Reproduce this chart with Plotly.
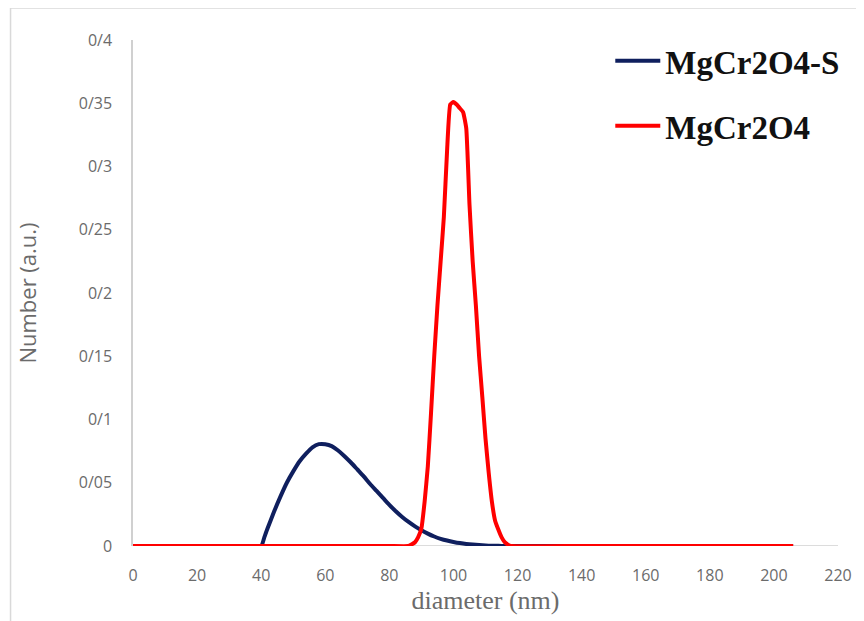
import plotly.graph_objects as go

# MgCr2O4-S (navy) size distribution
blue_x = [0, 10, 20, 30, 38, 40, 41, 42, 44, 46, 48, 50, 52, 54, 56, 58, 60, 62, 64, 66, 68,
          70, 72, 74, 76, 78, 80, 82, 84, 86, 88, 90, 92, 94, 96, 98, 100, 102, 104, 106, 108,
          110, 112, 114, 116, 130, 160, 206]
blue_y = [0, 0, 0, 0, 0, 0, 0.007, 0.014, 0.027, 0.039, 0.050, 0.059, 0.067, 0.073, 0.078, 0.0805, 0.0805, 0.079, 0.0755, 0.071, 0.066,
          0.0605, 0.055, 0.049, 0.0435, 0.038, 0.0325, 0.0275, 0.023, 0.019, 0.0155, 0.0125, 0.0098, 0.0075, 0.0057, 0.0043, 0.0032, 0.0023, 0.0016, 0.0011, 0.0007,
          0.0004, 0.0002, 0.0001, 0, 0, 0, 0]

# MgCr2O4 (red) size distribution
red_x = [0, 20, 40, 60, 80, 86, 88, 89, 90, 91, 92, 93, 94, 95, 96, 97, 98, 99, 100, 101,
         102, 103, 104, 105, 106, 107, 108, 109, 110, 111, 112, 113, 114, 115, 116, 117, 118,
         140, 170, 206]
red_y = [0, 0, 0, 0, 0, 0, 0.003, 0.007, 0.014, 0.035, 0.063, 0.105, 0.150, 0.190, 0.225, 0.260, 0.312, 0.349, 0.351, 0.349,
         0.346, 0.343, 0.330, 0.270, 0.225, 0.190, 0.150, 0.118, 0.085, 0.058, 0.035, 0.020, 0.013, 0.007, 0.003, 0.001, 0,
         0, 0, 0]

y_tickvals = [0, 0.05, 0.1, 0.15, 0.2, 0.25, 0.3, 0.35, 0.4]
y_ticktext = ["0", "0/05", "0/1", "0/15", "0/2", "0/25", "0/3", "0/35", "0/4"]
x_tickvals = [0, 20, 40, 60, 80, 100, 120, 140, 160, 180, 200, 220]

fig = go.Figure()
fig.add_trace(go.Scatter(x=blue_x, y=blue_y, mode="lines", name="<b>MgCr2O4-S</b>",
                         line=dict(color="#0f1f5e", width=4, shape="spline", smoothing=0.6),
                         legendgroup="a"))
fig.add_trace(go.Scatter(x=red_x, y=red_y, mode="lines", name="<b>MgCr2O4</b>",
                         line=dict(color="#ff0000", width=4, shape="spline", smoothing=0.4),
                         legendgroup="b"))

tick_font = dict(family="Open Sans, Lato, sans-serif", size=16, color="#6b6b6b")

fig.update_layout(
    width=856, height=613,
    margin=dict(l=125, r=17, t=32, b=75),
    paper_bgcolor="white", plot_bgcolor="white",
    showlegend=True,
    legend=dict(x=0.677, y=1.014, xanchor="left", yanchor="top",
                font=dict(family="Liberation Serif, serif", size=33, color="#111111"),
                bgcolor="rgba(0,0,0,0)", tracegroupgap=19, itemwidth=45),
    xaxis=dict(range=[0, 220], tickvals=x_tickvals, showgrid=False, zeroline=False,
               showline=False, ticks="", tickfont=tick_font, ticklabelstandoff=18,
               title=dict(text="diameter (nm)", standoff=4,
                          font=dict(family="Liberation Serif, serif", size=26, color="#6b6b6b"))),
    yaxis=dict(range=[0, 0.4], tickvals=y_tickvals, ticktext=y_ticktext, showgrid=False,
               zeroline=False, showline=True, linecolor="#d0d0d0", linewidth=1.5, ticks="",
               tickfont=tick_font, ticklabelstandoff=16,
               title=dict(text="Number (a.u.)", standoff=36,
                          font=dict(family="Open Sans, Lato, sans-serif", size=22, color="#6b6b6b"))),
    shapes=[
        # x axis baseline
        dict(type="line", xref="x", yref="y", x0=0, x1=220, y0=0, y1=0,
             line=dict(color="#d0d0d0", width=1.5), layer="below"),
        # outer frame (top and left)
        dict(type="line", xref="paper", yref="paper", x0=-0.1737, x1=1.03, y0=1.0632, y1=1.0632,
             line=dict(color="#d9d9d9", width=1.5)),
        dict(type="line", xref="paper", yref="paper", x0=-0.1737, x1=-0.1737, y0=1.0632, y1=-0.16,
             line=dict(color="#d9d9d9", width=1.5)),
    ],
)

fig.write_html("out.html")
